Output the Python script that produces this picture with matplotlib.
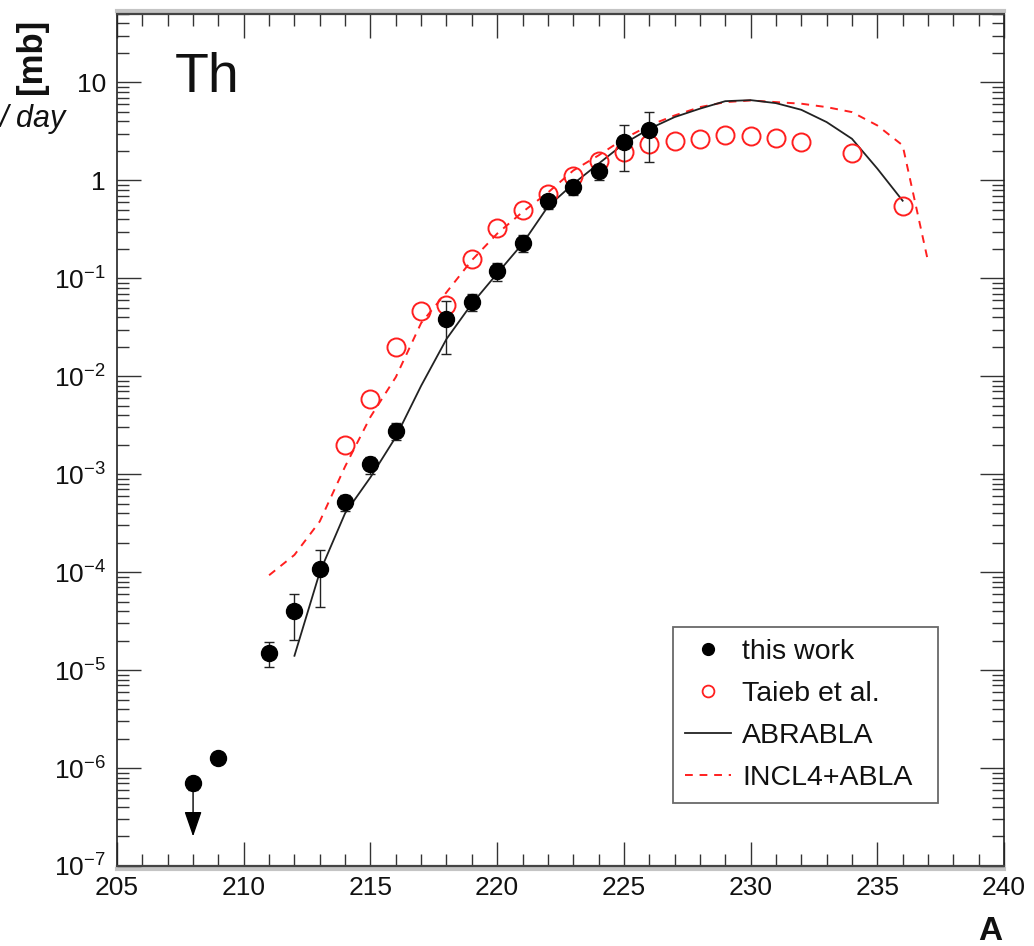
import numpy as np
import matplotlib
matplotlib.use("Agg")
import matplotlib.pyplot as plt
from matplotlib.ticker import LogLocator, FixedLocator, MultipleLocator, FuncFormatter, NullFormatter
from matplotlib.lines import Line2D

plt.rcParams['font.family'] = ['Liberation Sans', 'DejaVu Sans']
plt.rcParams['mathtext.default'] = 'regular'

# Measured cross sections (this work), mass number A and sigma [mb]
A_meas = [208, 209, 211, 212, 213, 214, 215, 216, 218, 219, 220, 221, 222, 223, 224, 225, 226]
sig_meas = [7.0e-7, 1.28e-6, 1.5e-5, 4.0e-5, 1.07e-4, 5.2e-4, 1.26e-3, 2.77e-3,
            0.038, 0.058, 0.12, 0.23, 0.61, 0.86, 1.24, 2.45, 3.3]
err_meas = [0.1e-6, 0.12e-6, 0.43e-5, 1.95e-5, 6.3e-5, 1.0e-4, 0.25e-3, 0.55e-3,
            0.021, 0.012, 0.025, 0.045, 0.10, 0.15, 0.24, 1.2, 1.75]
# A=208 is an upper limit; arrow tip value
A_limit = 208
limit_tip = 2.0e-7

# Taieb et al.
A_taieb = [214, 215, 216, 217, 218, 219, 220, 221, 222, 223, 224, 225, 226,
           227, 228, 229, 230, 231, 232, 234, 236]
sig_taieb = [2.0e-3, 5.9e-3, 0.020, 0.046, 0.054, 0.159, 0.326, 0.50, 0.73, 1.12,
             1.56, 1.95, 2.37, 2.52, 2.66, 2.88, 2.81, 2.73, 2.46, 1.90, 0.55]

# ABRABLA calculation
A_abrabla = [212, 213, 214, 215, 216, 217, 218, 219, 220, 221, 222, 223, 224,
             225, 226, 227, 228, 229, 230, 231, 232, 233, 234, 235, 236]
sig_abrabla = [1.4e-5, 1.0e-4, 4.0e-4, 9.3e-4, 2.4e-3, 8.0e-3, 0.024, 0.055, 0.112,
               0.226, 0.54, 0.92, 1.48, 2.37, 3.36, 4.43, 5.4, 6.44, 6.6, 6.15,
               5.26, 3.94, 2.66, 1.32, 0.62]

# INCL4+ABLA calculation
A_incl = [211, 212, 213, 214, 215, 216, 217, 218, 219, 220, 221, 222, 223, 224,
          225, 226, 227, 228, 229, 230, 231, 232, 233, 234, 235, 236, 237]
sig_incl = [9.3e-5, 1.5e-4, 3.3e-4, 1.2e-3, 3.85e-3, 9.8e-3, 0.035, 0.072, 0.153,
            0.286, 0.475, 0.75, 1.26, 1.80, 2.66, 3.64, 4.6, 5.6, 6.3, 6.55,
            6.3, 6.07, 5.6, 4.98, 3.64, 2.28, 0.15]

x_ticks = [205, 210, 215, 220, 225, 230, 235, 240]
legend_labels = ['this work', 'Taieb et al.', 'ABRABLA', 'INCL4+ABLA']

fig = plt.figure(figsize=(10.34, 9.46), dpi=100)
ax = fig.add_axes([0.1132, 0.0846, 0.8578, 0.9006])

red = '#ff1f1f'
dark = '#222222'

ax.plot(A_incl, sig_incl, color=red, lw=1.4, dashes=(4, 3.5), zorder=2)
ax.plot(A_abrabla, sig_abrabla, color=dark, lw=1.3, zorder=2)
ax.plot(A_taieb, sig_taieb, 'o', ms=13, mfc='none', mec=red, mew=1.4, zorder=3)
ax.errorbar(A_meas, sig_meas, yerr=err_meas, fmt='o', ms=11.5, color='black',
            ecolor=dark, elinewidth=1.0, capsize=3.5, capthick=1.0, zorder=4)

# upper-limit arrow for A = 208
i_lim = A_meas.index(A_limit)
ax.annotate('', xy=(A_limit, limit_tip), xytext=(A_limit, sig_meas[i_lim]),
            arrowprops=dict(arrowstyle='-|>,head_length=1.3,head_width=0.45',
                            color='black', lw=1.0, shrinkA=0, shrinkB=0,
                            mutation_scale=12),
            zorder=3)

ax.set_yscale('log')
ax.set_xlim(205, 240)
ax.set_ylim(1e-7, 50)

ax.xaxis.set_major_locator(FixedLocator(x_ticks))
ax.xaxis.set_minor_locator(MultipleLocator(1))
ax.yaxis.set_major_locator(LogLocator(base=10, numticks=20))
ax.yaxis.set_minor_locator(LogLocator(base=10, subs=np.arange(2, 10), numticks=20))
ax.yaxis.set_minor_formatter(NullFormatter())


def ylab(v, pos):
    e = int(round(np.log10(v)))
    if e == 0:
        return '1'
    if e == 1:
        return '10'
    return r'$10^{%d}$' % e


ax.yaxis.set_major_formatter(FuncFormatter(ylab))
ax.xaxis.set_major_formatter(FuncFormatter(lambda v, p: '%d' % v))

ax.tick_params(which='both', direction='in', top=True, right=True,
               color='#333333', labelsize=19, labelcolor='#111111')
ax.tick_params(which='major', length=17, width=1.0)
ax.tick_params(which='minor', length=8.5, width=1.0)
ax.tick_params(axis='x', pad=7)
ax.tick_params(axis='y', pad=8)

for s in ['left', 'right']:
    ax.spines[s].set_color(dark)
    ax.spines[s].set_linewidth(1.2)
for s in ['top', 'bottom']:
    ax.spines[s].set_color('#444444')
    ax.spines[s].set_linewidth(1.6)
# light border band above the top frame and below the bottom frame
for yb in (1.0035, -0.0035):
    ax.add_line(Line2D([0, 1], [yb, yb], transform=ax.transAxes, color='#c4c4c4',
                       lw=3, clip_on=False, zorder=0))

ax.text(0.065, 0.908, 'Th', transform=ax.transAxes, fontsize=40, color='#111111')

handles = [
    Line2D([], [], ls='none', marker='o', ms=8.5, color='black'),
    Line2D([], [], ls='none', marker='o', ms=8.5, mfc='none', mec=red, mew=1.3),
    Line2D([], [], color=dark, lw=1.3),
    Line2D([], [], color=red, lw=1.4, dashes=(4, 3.5)),
]
leg = ax.legend(handles, legend_labels,
                loc='lower left', bbox_to_anchor=(0.627, 0.074, 0.299, 0.2),
                mode='expand', fontsize=20.5,
                frameon=True, fancybox=False, edgecolor='#444444',
                handlelength=1.6, handletextpad=0.4, labelspacing=0.56,
                borderpad=0.42, borderaxespad=0)
leg.get_frame().set_linewidth(1.3)
for t in leg.get_texts():
    t.set_color('#111111')

fig.text(990 / 1034, 1 - 931 / 946, 'A', fontsize=24, fontweight='bold',
         ha='center', va='center', color='#111111')
fig.text(32 / 1034, 1 - 56 / 946, '[mb]', fontsize=25, fontweight='bold',
         rotation=90, ha='center', va='center', color='#111111')
fig.text(0.0, 1 - 127 / 946, '/ day', fontsize=22, style='italic',
         ha='left', va='baseline', color='#111111')

fig.savefig('out.png', dpi=100)
